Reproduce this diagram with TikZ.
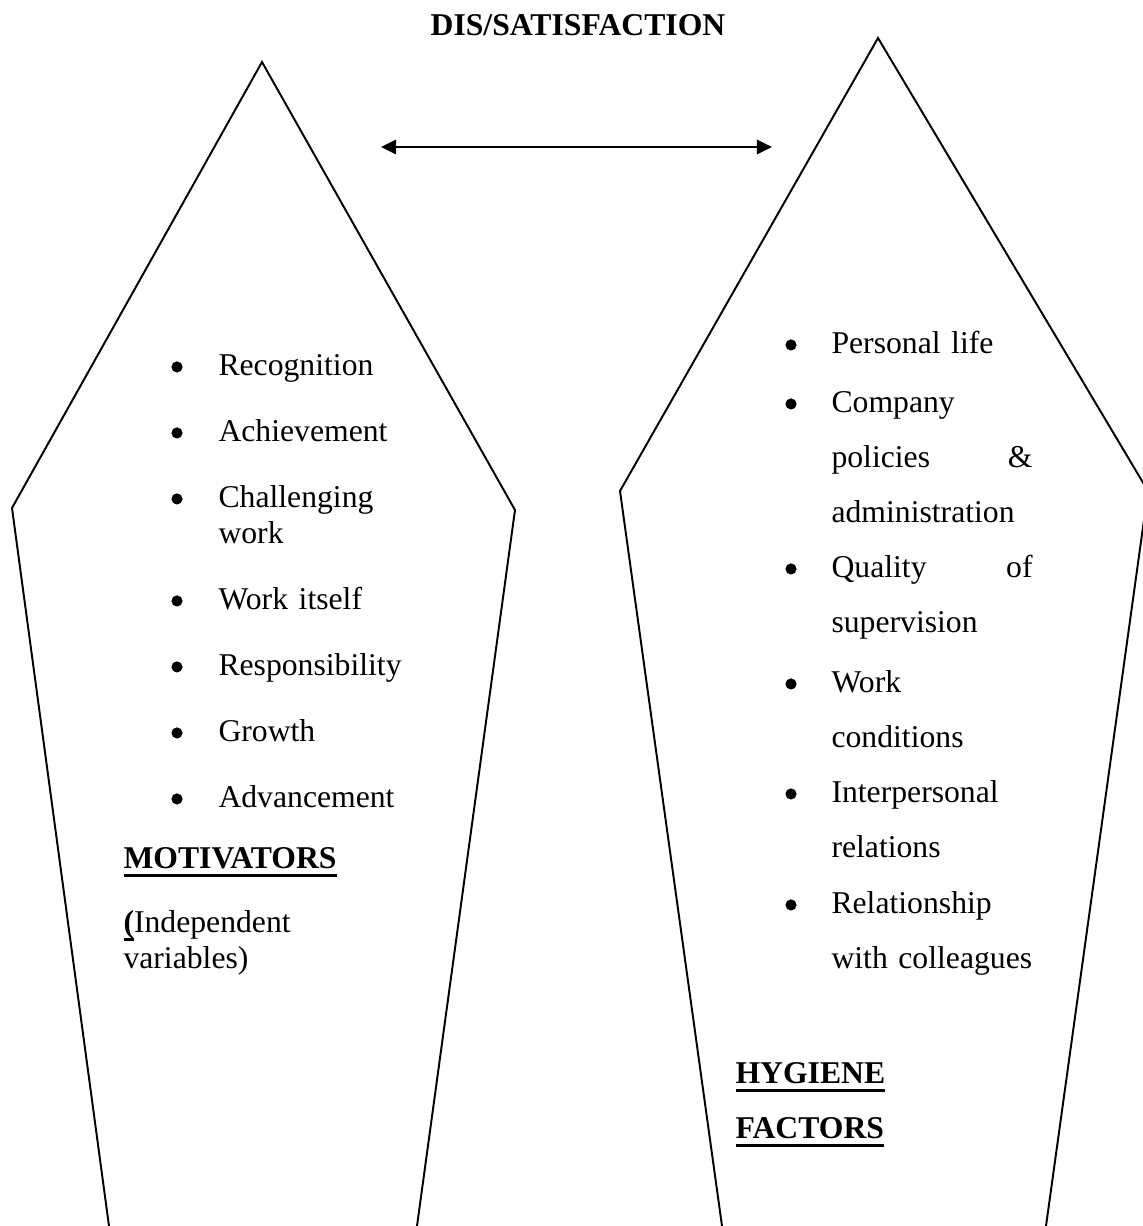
\documentclass[tikz,border=0pt]{standalone}
\usepackage{fontspec}
\setmainfont{Liberation Serif}
\usepackage{tikz}
\usetikzlibrary{arrows.meta}
\newcommand{\thickul}[1]{\leavevmode\setbox0\hbox{#1}\rlap{\rule[-3.3pt]{\wd0}{1.15pt}}\box0}
\tikzset{
    outline/.style={draw, line width=0.75pt, line join=miter},
    bulletmark/.style={circle, fill, inner sep=0pt, minimum size=4.3pt, yshift=3.1pt},
    leftitem/.style={anchor=base west, inner sep=0pt, text width=80pt, align=left, font=\fontsize{12.2}{13.9}\selectfont},
    rightitem/.style={anchor=base west, inner sep=0pt, text width=77.4pt, align=left, font=\fontsize{12.2}{21.2}\selectfont},
    heading/.style={anchor=base west, inner sep=0pt, text width=100pt, align=left, font=\fontsize{12.2}{21.2}\selectfont\bfseries},
    twoway/.style={line width=1.1pt, {Triangle[length=5.8pt,width=5.4pt]}-{Triangle[length=5.8pt,width=5.4pt]}}
}

\begin{document}
\begin{tikzpicture}[x=0.385pt, y=-0.385pt]
    \useasboundingbox (0,0) rectangle (1143,1226);
    \clip (0,0) rectangle (1143,1226);
    \draw[outline] (109,1226) -- (12,508) -- (262,62) -- (515,510) -- (417,1226);
    \draw[outline] (722,1226) -- (620,491) -- (878,38) -- (1148,491) -- (1046,1226);
    \node[anchor=base, inner sep=0pt, font=\fontsize{12.2}{14}\selectfont\bfseries] (title) at (578,35) {DIS/SATISFACTION};
    \coordinate (al) at (381,147);
    \coordinate (ar) at (772,147);
    \draw[twoway] (al) -- (ar);
    \foreach \txt/\y [count=\i] in {Recognition/375, Achievement/441, {Challenging\\work}/507,
            {Work itself}/609, Responsibility/675, Growth/741, Advancement/807} {
        \node[bulletmark] (mb\i) at (177,\y) {};
        \node[leftitem] (m\i) at (218,\y) {\txt};
    }
    \node[heading] (motiv) at (123,868) {\thickul{MOTIVATORS}};
    \node[leftitem, text width=100pt] (indep) at (123,932) {\thickul{\textbf{(}}Independent\\variables)};
    \foreach \txt/\y [count=\i] in {{Personal life}/353, {Company\\policies \hfill \&\\administration}/412,
            {Quality \hfill of\\supervision}/577, {Work\\conditions}/692,
            {Interpersonal\\relations}/802, {Relationship\\with colleagues}/913} {
        \node[bulletmark] (hb\i) at (791,\y) {};
        \node[rightitem] (h\i) at (831,\y) {\txt};
    }
    \node[heading] (hyg) at (735,1083) {\thickul{HYGIENE}\\\thickul{FACTORS}};
\end{tikzpicture}
\end{document}
